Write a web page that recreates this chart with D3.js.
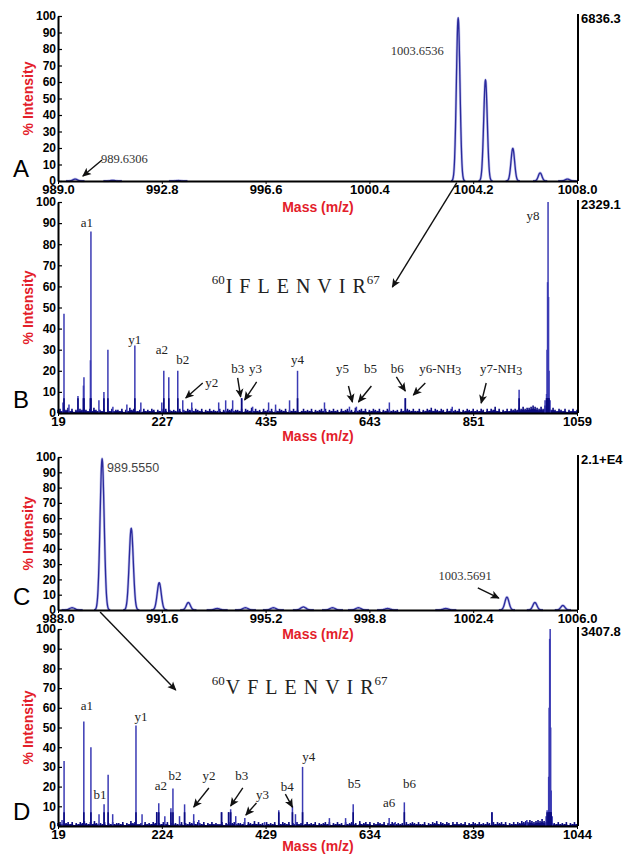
<!DOCTYPE html>
<html><head><meta charset="utf-8">
<script src="https://cdn.jsdelivr.net/npm/d3@7"></script>
<style>body{margin:0;background:#fff}svg{display:block}</style>
</head><body>
<svg id="c" width="634" height="854"></svg>
<script>
// ---------------- DATA ----------------
const intensityTicks = [0,10,20,30,40,50,60,70,80,90,100];
const massTicksA = [989.0, 992.8, 996.6, 1000.4, 1004.2, 1008.0];
const massTicksB = [19, 227, 435, 643, 851, 1059];
const massTicksC = [988.0, 991.6, 995.2, 998.8, 1002.4, 1006.0];
const massTicksD = [19, 224, 429, 634, 839, 1044];
const fullScaleLabels = ["6836.3", "2329.1", "2.1+E4", "3407.8"];
const panelLetters = ["A", "B", "C", "D"];

// Panel A: MS profile peaks [m/z, % intensity]
const peaksA = [[989.63,1.2],[991.0,0.4],[993.4,0.3],[1003.65,100],[1004.65,62],[1005.65,20],[1006.65,5],[1007.65,1.2]];
// Panel C: MS profile peaks
const peaksC = [[988.49,1.5],[989.53,100],[990.54,54],[991.51,18],[992.52,5],[993.52,1],[994.5,1.5],[995.47,1.5],
  [996.51,2],[997.52,1.5],[998.42,1.5],[999.43,1],[1001.45,1],[1003.57,8.5],[1004.54,5],[1005.51,3]];

// Panel B: MS/MS stick peaks
const peaksB = [[29,5],[31,47],[41,4],[59,8],[70,13],[71,17],[84,25],[85,86],[101,6],[111,10],[119,30],[129,3],
  [157,4],[173,32],[185,5],[227,5],[231,20],[241,17],[259,20],[269,6],[287,5],[341,5],[355,6],[369,6],[387,7],
  [409,3],[441,5],[455,4],[483,6],[499,20],[553,5],[603,3],[617,3],[683,5],[715,7],[809,3],[943,11],
  [995,6],[998,9],[999,30],[1000,62],[1001,100],[1002,55],[1003,20],[1005,6]];
// Panel D: MS/MS stick peaks
const peaksD = [[27,3],[31,33],[70,53],[84,40],[100,6],[110,11],[118,26],[127,6],[173,51],[185,6],[214,7],[218,11.5],
  [230,5],[242,9],[246,19],[259,5],[269,11],[287,6],[297,3],[342,7],[356,7],[360,8.5],[370,5],[388,4],[427,2],
  [455,8],[482,10],[488,6],[502,30],[555,4],[587,4],[602,11],[673,4],[685,2],[703,12],[876,7],[945,3],[983,5],
  [985,8],[988,25],[989,60],[990,95],[991,100],[992,50],[993,18],[995,5]];

// Baseline noise, one digit per 4 m/z (units of 0.5 %)
const noiseB = "3424352413243532425323241324233241325342231423243132424132322413243524324132423224132434233241432524" +
  "2314232413243241324231242324132342413242314234231523424132432413243232314234324224132435243243142423" +
  "241324324232431424362413242434354645567654647643532432413242" + "3";
const noiseD = "3425342413243532425323241324233241325342231423243132424132322413243524324132423224132434233241432524" +
  "2314232413243241324231242324132342413242314234231523424132432413243232314234324224132435243243142423" +
  "24132432423243142434241324243545465456575424332423" + "2413242";

// Fragment ion labels [text, m/z, % intensity]
const ionsB = [["a1",77,88.2],["y1",173,32.7],["a2",227,28],["b2",269,23.2],["y2",327,12.3],["b3",379,19],["y3",415,19],
  ["y4",499,23.2],["y5",589,19],["b5",645,19],["b6",699,19],["y6-NH|3",785,19],["y7-NH|3",907,19],["y8",971,91.5]];
const arrowsB = [[309,14.2,275,7.1],[379,16.6,385,7.6],[417,14.7,393,6.2],[601,12.8,609,5.2],[647,12.8,621,5.2],
  [697,17.1,715,10.4],[755,14.2,731,8.5],[877,14.2,867,4.7]];
const ionsD = [["a1",76,58.9],["b1",102,13.7],["y1",183,53.3],["a2",222,18.3],["b2",250,23.4],["y2",317,23.4],
  ["b3",382,23.4],["y3",423,13.7],["b4",472,17.8],["y4",514,33],["b5",604,19.3],["a6",673,9.6],["b6",713,19.3]];
const arrowsD = [[317,19.3,287,9.6],[384,19.3,360,10.2],[411,11.7,390,5.6],[468,16.2,482,9.6]];

const sequenceB = "IFLENVIR", sequenceD = "VFLENVIR", seqFirst = "60", seqLast = "67";

// ---------------- LAYOUT ----------------
const layout = {
  A:{left:58,right:577,top:16,bottom:181,massLabelY:212,letterY:177,dom:[989,1008],ticks:massTicksA,fmt:d3.format(".1f")},
  B:{left:58,right:577,top:202,bottom:413,massLabelY:441,letterY:408,dom:[19,1059],ticks:massTicksB,fmt:d3.format("d")},
  C:{left:58,right:577,top:457,bottom:610,massLabelY:639,letterY:605,dom:[988,1006],ticks:massTicksC,fmt:d3.format(".1f")},
  D:{left:58,right:577,top:629,bottom:826,massLabelY:851,letterY:820,dom:[19,1044],ticks:massTicksD,fmt:d3.format("d")}
};
const SANS = "'Liberation Sans', Arial, Helvetica, sans-serif";
const SERIF = "'Liberation Serif', 'Times New Roman', serif";
const RED = "#e3202a";

const svg = d3.select("#c");
const defs = svg.append("defs");
defs.append("marker").attr("id","ah").attr("viewBox","0 0 10 10").attr("refX",9).attr("refY",5)
  .attr("markerWidth",9).attr("markerHeight",9).attr("markerUnits","userSpaceOnUse").attr("orient","auto")
  .append("path").attr("d","M0,0.5 L10,5 L0,9.5 L2.5,5 Z").attr("fill","#111");

const scales = {};
Object.keys(layout).forEach((k,i) => {
  const L = layout[k];
  const x = d3.scaleLinear().domain(L.dom).range([L.left, L.right]);
  const y = d3.scaleLinear().domain([0,100]).range([L.bottom, L.top]);
  scales[k] = {x,y};
});

function drawProfile(k, peaks, sigma) {
  const {x,y} = scales[k];
  const g = svg.append("g");
  const line = d3.line().x(d=>x(d[0])).y(d=>y(d[1])).curve(d3.curveBasis);
  peaks.forEach(p => {
    const s = p[1] < 3 ? sigma*1.3 : sigma;
    const pts = d3.range(-4, 4.01, 0.25).map(t => [p[0] + t*s, p[1]*Math.exp(-t*t/2)]);
    g.append("path").attr("d", line(pts)).attr("fill","none").attr("stroke","#8a8ad8").attr("stroke-width",2.6).attr("opacity",0.55);
    g.append("path").attr("d", line(pts)).attr("fill","none").attr("stroke","#2a2a9c").attr("stroke-width",1.3);
  });
}
function drawSticks(k, peaks, noise, step) {
  const {x,y} = scales[k];
  const g = svg.append("g");
  const nz = noise.split("").map((c,i) => [layout[k].dom[0] + i*step, (+c)*0.5]);
  g.selectAll("line.n").data(nz).join("line").attr("class","n")
    .attr("x1",d=>x(d[0])).attr("x2",d=>x(d[0])).attr("y1",y(0)).attr("y2",d=>y(d[1]))
    .attr("stroke","#0c0c80").attr("stroke-width",1.6);
  g.append("path").attr("d", d3.area().x(d=>x(d[0])).y0(y(0)).y1(d=>y(d[1]*0.6))(nz)).attr("fill","#0c0c80");
  g.selectAll("line.p").data(peaks).join("line").attr("class","p")
    .attr("x1",d=>x(d[0])).attr("x2",d=>x(d[0])).attr("y1",y(0)).attr("y2",d=>y(d[1]))
    .attr("stroke","#3b3bb4").attr("stroke-width",1.5);
  g.selectAll("line.q").data(peaks.filter(d=>d[1]>6)).join("line").attr("class","q")
    .attr("x1",d=>x(d[0])).attr("x2",d=>x(d[0])).attr("y1",y(0)).attr("y2",d=>y(Math.min(d[1],7)))
    .attr("stroke","#0c0c80").attr("stroke-width",1.6);
}

drawProfile("A", peaksA, 0.065);
drawSticks("B", peaksB, noiseB, 4);
drawProfile("C", peaksC, 0.07);
drawSticks("D", peaksD, noiseD, 4);

// axes
Object.keys(layout).forEach((k,i) => {
  const L = layout[k]; const {x,y} = scales[k];
  const ya = svg.append("g").attr("transform",`translate(${L.left},0)`)
    .call(d3.axisLeft(y).tickValues(intensityTicks).tickSizeInner(-4).tickSizeOuter(0).tickPadding(2));
  ya.select(".domain").attr("stroke","#000").attr("stroke-width",2);
  ya.selectAll("text").attr("font-family",SANS).attr("font-weight","bold").attr("font-size",12).attr("fill","#000");
  ya.selectAll(".tick line").attr("stroke","#000").attr("stroke-width",1.2);
  const xa = svg.append("g").attr("transform",`translate(0,${L.bottom})`)
    .call(d3.axisBottom(x).tickValues(L.ticks).tickFormat(L.fmt).tickSizeInner(3).tickSizeOuter(0).tickPadding(1));
  xa.select(".domain").attr("stroke","#000").attr("stroke-width",2.2);
  xa.selectAll("text").attr("font-family",SANS).attr("font-weight","bold").attr("font-size",13).attr("fill","#000");
  xa.selectAll(".tick line").attr("stroke","#000");
  // right axis
  svg.append("line").attr("x1",L.right+1).attr("x2",L.right+1).attr("y1",L.top-2).attr("y2",L.bottom)
    .attr("stroke","#000").attr("stroke-width",2);
  svg.append("text").attr("x",L.right+4).attr("y",L.top+7).text(fullScaleLabels[i])
    .attr("font-family",SANS).attr("font-weight","bold").attr("font-size",13);
  svg.append("text").attr("x",318).attr("y",L.massLabelY).attr("text-anchor","middle").text("Mass (m/z)")
    .attr("font-family",SANS).attr("font-weight","bold").attr("font-size",14).attr("fill",RED);
  svg.append("text").attr("transform",`translate(33,${(L.top+L.bottom)/2}) rotate(-90)`).attr("text-anchor","middle")
    .text("% Intensity").attr("font-family",SANS).attr("font-weight","bold").attr("font-size",14).attr("fill",RED);
  svg.append("text").attr("x",13).attr("y",L.letterY).text(panelLetters[i])
    .attr("font-family",SANS).attr("font-size",24).attr("fill","#000");
});

// annotations
function arrow(p1, p2) {
  svg.append("line").attr("x1",p1[0]).attr("y1",p1[1]).attr("x2",p2[0]).attr("y2",p2[1])
    .attr("stroke","#111").attr("stroke-width",1.4).attr("marker-end","url(#ah)");
}
function ionLabels(k, ions, arrows) {
  const {x,y} = scales[k];
  ions.forEach(d => {
    const parts = d[0].split("|");
    const t = svg.append("text").attr("x",x(d[1])).attr("y",y(d[2])).attr("text-anchor","middle")
      .attr("font-family",SERIF).attr("font-size",13).attr("fill","#222");
    t.append("tspan").text(parts[0]);
    if (parts[1]) t.append("tspan").attr("dy",2).attr("font-size",12).text(parts[1]);
  });
  arrows.forEach(a => arrow([x(a[0]),y(a[1])],[x(a[2]),y(a[3])]));
}
ionLabels("B", ionsB, arrowsB);
ionLabels("D", ionsD, arrowsD);

// panel A / C precursor labels
{
  const {x,y} = scales.A;
  svg.append("text").attr("x",x(1002.15)).attr("y",y(76.4)).attr("text-anchor","middle").text("1003.6536")
    .attr("font-family",SERIF).attr("font-size",12.5).attr("fill","#333");
  svg.append("text").attr("x",x(990.57)).attr("y",y(10.9)).text("989.6306")
    .attr("font-family",SERIF).attr("font-size",12.5).attr("fill","#333");
  arrow([x(990.61),y(12.7)],[x(989.91),y(3)]);
}
{
  const {x,y} = scales.C;
  svg.append("text").attr("x",x(989.7)).attr("y",y(90.2)).text("989.5550")
    .attr("font-family",SANS).attr("font-size",12.5).attr("fill","#444");
  svg.append("text").attr("x",x(1001.2)).attr("y",y(19.6)).text("1003.5691")
    .attr("font-family",SERIF).attr("font-size",12.5).attr("fill","#333");
  arrow([x(1002.56),y(14.4)],[x(1003.29),y(7.8)]);
}

// peptide sequences
function sequence(k, seq, mz, inten) {
  const {x,y} = scales[k];
  const t = svg.append("text").attr("x",x(mz)).attr("y",y(inten)).attr("font-family",SERIF).attr("fill","#222");
  t.append("tspan").attr("font-size",13).attr("dy",-9).text(seqFirst);
  t.append("tspan").attr("font-size",20).attr("dy",9).attr("dx",1).attr("letter-spacing",7).text(seq.slice(0,-1));
  t.append("tspan").attr("font-size",20).text(seq.slice(-1));
  t.append("tspan").attr("font-size",13).attr("dy",-9).attr("dx",1).text(seqLast);
}
sequence("B", sequenceB, 327, 56.9);
sequence("D", sequenceD, 322.6, 67);

// cross-panel arrows
arrow([scales.A.x(1003.6), scales.A.y(-1)], [scales.B.x(689), scales.B.y(59.7)]);
arrow([scales.C.x(989.46), scales.C.y(-1.3)], [scales.D.x(251.6), scales.D.y(69)]);
</script>
</body></html>
